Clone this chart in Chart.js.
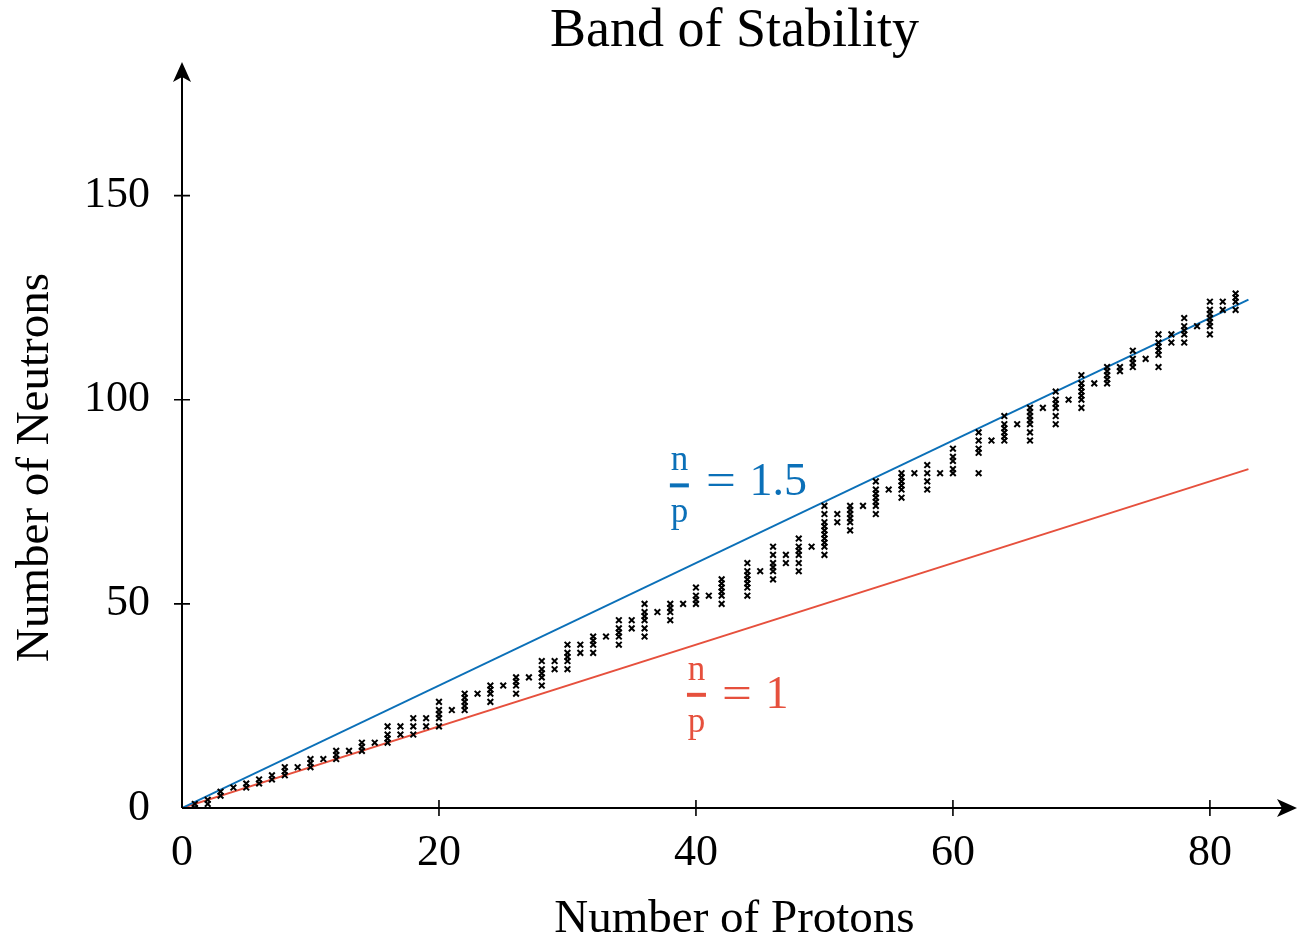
<!DOCTYPE html>
<html><head><meta charset="utf-8">
<script src="https://cdn.jsdelivr.net/npm/chart.js@4.4.0/dist/chart.umd.min.js"></script>
<style>html,body{margin:0;padding:0;background:#fff;}#wrap{width:1312px;height:943px;}</style>
</head><body><div id="wrap"><canvas id="c" width="1312" height="943"></canvas></div>
<script>
// Stable nuclides: proton number of each element and its stable neutron numbers
const elementZ = [1,2,3,4,5,6,7,8,9,10,11,12,13,14,15,16,17,18,19,20,
  21,22,23,24,25,26,27,28,29,30,31,32,33,34,35,36,37,38,39,40,
  41,42,44,45,46,47,48,49,50,51,52,53,54,55,56,57,58,59,60,
  62,63,64,65,66,67,68,69,70,71,72,73,74,75,76,77,78,79,80,81,82];
const neutronsByElement = [
  [0,1],[1,2],[3,4],[5],[5,6],[6,7],[7,8],[8,9,10],[10],[10,11,12],
  [12],[12,13,14],[14],[14,15,16],[16],[16,17,18,20],[18,20],[18,20,22],[20,22],[20,22,23,24,26],
  [24],[24,25,26,27,28],[28],[26,28,29,30],[30],[28,30,31,32],[32],[30,32,33,34,36],[34,36],[34,36,37,38,40],
  [38,40],[38,40,41,42],[42],[40,42,43,44,46],[44,46],[42,44,46,47,48,50],[48],[46,48,49,50],[50],[50,51,52,54],
  [52],[50,52,53,54,55,56],[52,54,55,56,57,58,60],[58],[56,58,59,60,62,64],[60,62],[58,60,62,63,64,66],[64],
  [62,64,65,66,67,68,69,70,72,74],[70,72],[68,70,71,72,73,74],[74],[72,74,75,76,77,78,80],[78],[76,78,79,80,81,82],
  [82],[78,80,82,84],[82],[82,83,85,86,88],
  [82,87,88,90,92],[90],[90,91,92,93,94,96],[94],[90,92,94,95,96,97,98],[98],[94,96,98,99,100,102],[100],
  [98,100,101,102,103,104,106],[104],[104,105,106,107,108],[107,108],[108,109,110,112],[110],
  [108,111,112,113,114,116],[114,116],[114,116,117,118,120],[118],[116,118,119,120,121,122,124],[122,124],[122,124,125,126]
];
// Reference lines n/p = 1.5 and n/p = 1
const ratioLineProtons = [0, 83];
const ratio15Neutrons = [0, 124.5];
const ratio1Neutrons = [0, 83];
const xTickValues = [0, 20, 40, 60, 80];
const yTickValues = [0, 50, 100, 150];

const BLUE = '#0b70b8';
const RED = '#e6503d';
const FONT = "'Liberation Serif', 'Times New Roman', serif";

const nuclidePoints = elementZ.flatMap((z, i) => neutronsByElement[i].map(n => ({x: z, y: n})));
const line15 = ratioLineProtons.map((p, i) => ({x: p, y: ratio15Neutrons[i]}));
const line1 = ratioLineProtons.map((p, i) => ({x: p, y: ratio1Neutrons[i]}));

const axesPlugin = {
  id: 'axesPlugin',
  afterDraw(chart) {
    const ctx = chart.ctx;
    const xs = chart.scales.x, ys = chart.scales.y;
    const x0 = xs.getPixelForValue(0), y0 = ys.getPixelForValue(0);
    const xEnd = chart.chartArea.right + 10;
    const yEnd = chart.chartArea.top - 65;
    ctx.save();
    ctx.strokeStyle = '#000';
    ctx.fillStyle = '#000';
    ctx.lineWidth = 2;
    ctx.beginPath();
    ctx.moveTo(x0, y0); ctx.lineTo(xEnd - 8, y0);
    ctx.moveTo(x0, y0); ctx.lineTo(x0, yEnd + 8);
    ctx.stroke();
    // tick marks crossing the axes
    ctx.lineWidth = 1.6;
    ctx.beginPath();
    xTickValues.forEach(v => { if (v === 0) return; const px = xs.getPixelForValue(v); ctx.moveTo(px, y0 - 8); ctx.lineTo(px, y0 + 8); });
    yTickValues.forEach(v => { if (v === 0) return; const py = ys.getPixelForValue(v); ctx.moveTo(x0 - 8, py); ctx.lineTo(x0 + 8, py); });
    ctx.stroke();
    // arrow heads
    ctx.beginPath();
    ctx.moveTo(xEnd, y0); ctx.lineTo(xEnd - 20, y0 - 9); ctx.lineTo(xEnd - 15, y0); ctx.lineTo(xEnd - 20, y0 + 9); ctx.closePath();
    ctx.fill();
    ctx.beginPath();
    ctx.moveTo(x0, yEnd); ctx.lineTo(x0 - 9, yEnd + 20); ctx.lineTo(x0, yEnd + 15); ctx.lineTo(x0 + 9, yEnd + 20); ctx.closePath();
    ctx.fill();
    // annotations
    function fraction(ax, ay, color, dxEq, rhs, dxRhs, baseRhs, bw) {
      const cx = xs.getPixelForValue(ax), cy = ys.getPixelForValue(ay);
      ctx.fillStyle = color;
      ctx.font = "35px " + FONT;
      ctx.textAlign = 'center';
      ctx.textBaseline = 'alphabetic';
      ctx.fillText('n', cx, cy - 15);
      ctx.fillText('p', cx, cy + 37);
      ctx.fillRect(cx - bw / 2, cy - 2, bw, 4);
      ctx.font = "46px " + FONT;
      ctx.save();
      ctx.translate(cx + dxEq, cy + baseRhs);
      ctx.scale(1.15, 1);
      ctx.fillText('=', 0, 0);
      ctx.restore();
      ctx.textAlign = 'left';
      ctx.fillText(rhs, cx + dxRhs, cy + baseRhs);
    }
    fraction(38.71, 79.02, BLUE, 41.5, '1.5', 70, 10, 19);
    fraction(40.04, 27.72, RED, 40.5, '1', 69, 13, 19);
    ctx.restore();
  }
};

new Chart(document.getElementById('c'), {
  data: {
    datasets: [
      { type: 'scatter', data: nuclidePoints, pointStyle: 'crossRot', pointRadius: 4, pointBorderWidth: 2,
        borderColor: '#000', backgroundColor: '#000', pointHoverRadius: 4 },
      { type: 'line', data: line15, borderColor: BLUE, borderWidth: 2, pointRadius: 0, fill: false, tension: 0 },
      { type: 'line', data: line1, borderColor: RED, borderWidth: 2, pointRadius: 0, fill: false, tension: 0 }
    ]
  },
  options: {
    responsive: false,
    animation: false,
    devicePixelRatio: 1,
    events: [],
    layout: { padding: { left: 0, right: 25, top: 0, bottom: 0 } },
    plugins: {
      legend: { display: false },
      tooltip: { enabled: false },
      title: { display: true, text: 'Band of Stability', fullSize: false, color: '#000',
        font: { family: FONT, size: 54, weight: 'normal', lineHeight: 1 }, padding: { top: 5, bottom: 68 } }
    },
    scales: {
      x: { type: 'linear', min: 0, max: 86,
        grid: { display: false, drawTicks: false }, border: { display: false },
        ticks: { stepSize: 20, includeBounds: false, color: '#000', padding: 19, maxRotation: 0,
          font: { family: FONT, size: 44 } },
        title: { display: true, text: 'Number of Protons', color: '#000',
          font: { family: FONT, size: 47, lineHeight: 1 }, padding: { top: 0, bottom: 0 } },
        afterFit(s) { s.height = 135; } },
      y: { type: 'linear', min: 0, max: 166.8,
        grid: { display: false, drawTicks: false }, border: { display: false },
        ticks: { stepSize: 50, includeBounds: false, color: '#000', padding: 32,
          font: { family: FONT, size: 44 } },
        title: { display: true, text: 'Number of Neutrons', color: '#000',
          font: { family: FONT, size: 47, lineHeight: 1 }, padding: { top: 12, bottom: 0 } },
        afterFit(s) { s.width = 182; } }
    }
  },
  plugins: [axesPlugin]
});
</script></body></html>
